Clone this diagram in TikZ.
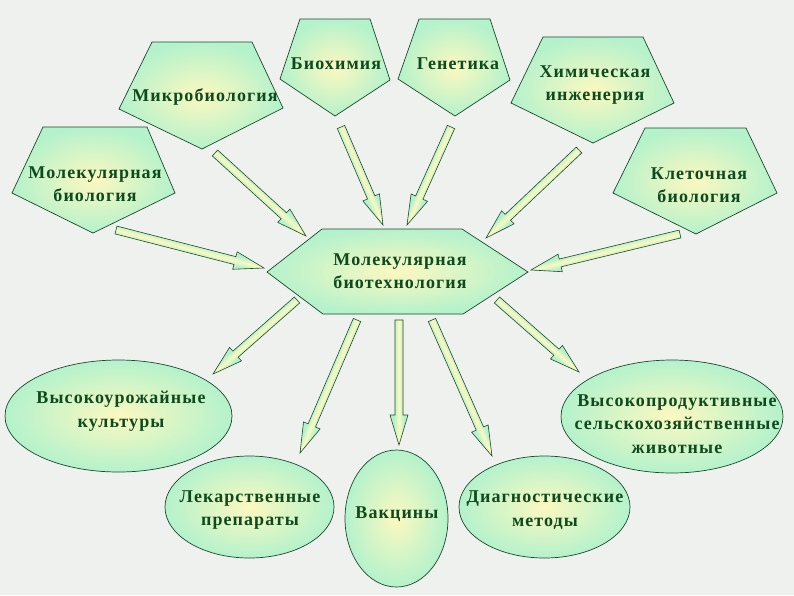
\documentclass[tikz,border=0pt]{standalone}
\usepackage{fontspec}
\setmainfont{Liberation Serif}[LetterSpace=6]
\usetikzlibrary{calc,shapes.geometric}
\definecolor{bgc}{HTML}{EEF1ED}
\definecolor{mint}{HTML}{B4F2CC}
\definecolor{cream}{HTML}{FCF8C0}
\definecolor{edgec}{HTML}{1C4A28}
\definecolor{textg}{HTML}{0F4A1F}
\pgfdeclareverticalshading{arrowgrad}{100bp}{color(0bp)=(mint); color(36bp)=(mint);
  color(50bp)=(cream); color(64bp)=(mint); color(100bp)=(mint)}

% block arrow between two named coordinates
\makeatletter
\newcommand\blockarrow[2]{%
  \pgfpointdiff{\pgfpointanchor{#1}{center}}{\pgfpointanchor{#2}{center}}%
  \pgf@xa=\pgf@x \pgf@ya=\pgf@y
  \pgfmathsetmacro\arlen{veclen(\pgf@xa,\pgf@ya)}%
  \pgfmathsetmacro\arang{atan2(\pgf@ya,\pgf@xa)}%
  \pgfmathsetmacro\arneck{\arlen-30}%
  \begin{scope}[transform canvas={shift={(#1)},rotate=\arang}]
    \shade[arrowshade] (0pt,4pt) -- (\arneck pt,4pt) -- (\arneck pt,9pt) -- (\arlen pt,0pt)
      -- (\arneck pt,-9pt) -- (\arneck pt,-4pt) -- (0pt,-4pt) -- cycle;
  \end{scope}}
\makeatother

\begin{document}
\begin{tikzpicture}[x=1pt,y=-1pt,font=\bfseries\fontsize{18}{23.5}\selectfont,
  shapefill/.style={draw=edgec,line width=0.7pt,inner color=cream,outer color=mint},
  lbl/.style={text=textg,align=center,inner sep=0pt},
  oval/.style={ellipse,shapefill,inner sep=0pt},
  arrowshade/.style={draw=edgec,line width=0.6pt,shading=arrowgrad}]
\useasboundingbox (0,0) rectangle (794,595);
\fill[bgc] (0,0) rectangle (794,595);
% pentagons of the source fields
\path[shapefill] (43,127) -- (147,127) -- (175,193) -- (93,233) -- (12,193) -- cycle;
\path[shapefill] (152,42) -- (252,42) -- (283,108) -- (202,149) -- (119,109) -- cycle;
\path[shapefill] (300,19) -- (370,19) -- (390,80) -- (335,116) -- (280,79) -- cycle;
\path[shapefill] (419,19) -- (490,19) -- (510,80) -- (455,116) -- (398,79) -- cycle;
\path[shapefill] (543,37) -- (643,37) -- (674,103) -- (593,143) -- (511,103) -- cycle;
\path[shapefill] (645,128) -- (746,128) -- (777,193) -- (696,234) -- (613,193) -- cycle;
\node[lbl] (molbio) at (95,184) {Молекулярная\\биология};
\node[lbl] (microbio) at (205,97) {Микробиология};
\node[lbl] (biochem) at (336,64) {Биохимия};
\node[lbl] (genetics) at (458,64) {Генетика};
\node[lbl] (chemeng) at (595,85) {Химическая\\инженерия};
\node[lbl] (cellbio) at (699,185) {Клеточная\\биология};
% central hexagon
\path[shapefill] (267,272) -- (322,229) -- (462,229) -- (528,272) -- (463,314) -- (323,314) -- cycle;
\node[lbl] (biotech) at (400,271) {Молекулярная\\биотехнология};
% outcomes
\node[oval,minimum width=227,minimum height=112] (crops) at (118.5,416) {};
\node[oval,minimum width=169,minimum height=102] (drugs) at (249.5,507) {};
\node[oval,minimum width=103,minimum height=137] (vaccines) at (396.5,518.5) {};
\node[oval,minimum width=171,minimum height=102] (diagn) at (544.5,507) {};
\node[oval,minimum width=222,minimum height=113] (animals) at (672,416.5) {};
\node[lbl] (crops-txt) at (121,411) {Высокоурожайные\\культуры};
\node[lbl] (drugs-txt) at (250,510) {Лекарственные\\препараты};
\node[lbl] (vaccines-txt) at (397,514) {Вакцины};
\node[lbl] (diagn-txt) at (545,510) {Диагностические\\методы};
\node[lbl] (animals-txt) at (677,424) {Высокопродуктивные\\сельскохозяйственные\\животные};
% arrows
\foreach \n/\tx/\ty/\hx/\hy in {molbio/116/230/264/268, microbio/215/153/306/236,
  biochem/341/127/383/225, genetics/451/127/407/225, chemeng/579/150/486/238,
  cellbio/680/234/531/270, crops/297/300/213/374, drugs/357/320/300/453,
  vaccines/399/320/399/445, diagn/432/320/492/456, animals/497/300/579/372}{
  \coordinate (\n-t) at (\tx,\ty);
  \coordinate (\n-h) at (\hx,\hy);
  \blockarrow{\n-t}{\n-h}
}
\end{tikzpicture}
\end{document}
